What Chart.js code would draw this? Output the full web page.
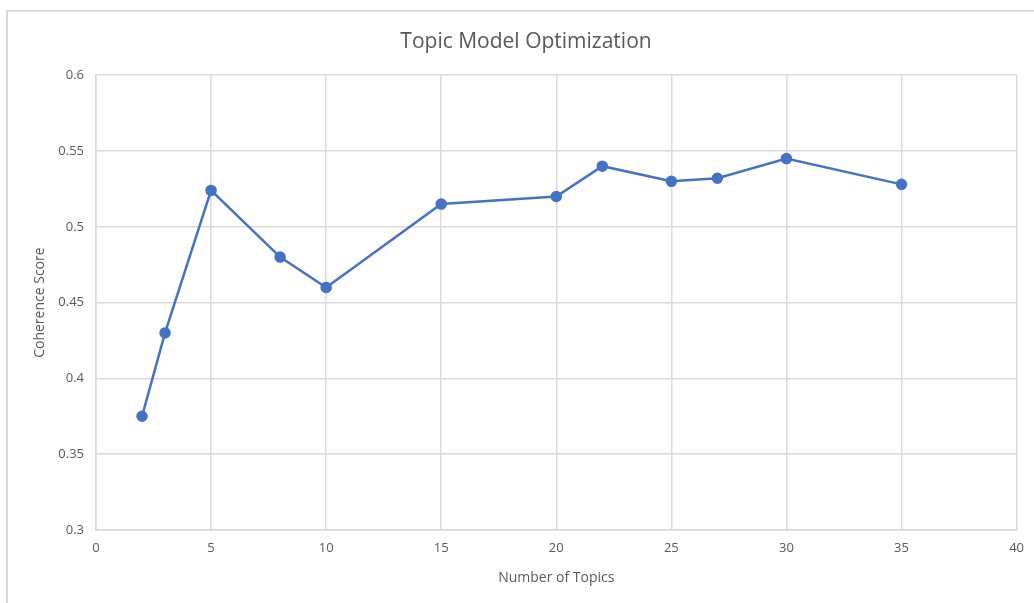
<!DOCTYPE html>
<html>
<head>
<meta charset="utf-8">
<script src="https://cdn.jsdelivr.net/npm/chart.js@4"></script>
<style>
  html, body { margin: 0; padding: 0; background: #fff; overflow: hidden; }
  #frame { position: absolute; left: 6px; top: 10px; width: 1100px; height: 700px; border: 2px solid #d9d9d9; box-sizing: border-box; }
  #wrap { position: absolute; left: 0; top: 0; width: 1034px; height: 603px; }
</style>
</head>
<body>
<div id="frame"></div>
<div id="wrap"><canvas id="chart" width="1034" height="603"></canvas></div>
<script>
const numTopics = [2, 3, 5, 8, 10, 15, 20, 22, 25, 27, 30, 35];
const coherence = [0.375, 0.43, 0.524, 0.48, 0.46, 0.515, 0.52, 0.54, 0.53, 0.532, 0.545, 0.528];
const yTickLabels = ['0.3', '0.35', '0.4', '0.45', '0.5', '0.55', '0.6'];

const textColor = '#595959';
const gridColor = '#d9d9d9';
const fontFamily = '"Open Sans", "Liberation Sans", sans-serif';

new Chart(document.getElementById('chart'), {
    type: 'scatter',
    data: {
        datasets: [{
            label: 'Coherence Score',
            data: numTopics.map((x, i) => ({ x: x, y: coherence[i] })),
            showLine: true,
            borderColor: '#4472c4',
            backgroundColor: '#4472c4',
            borderWidth: 2.5,
            pointRadius: 4.5,
            pointHoverRadius: 4.5,
            tension: 0
        }]
    },
    options: {
        responsive: false,
        animation: false,
        layout: { padding: { left: 34, right: 16, top: 0, bottom: 0 } },
        plugins: {
            legend: { display: false },
            tooltip: { enabled: false },
            title: {
                display: true,
                text: 'Topic Model Optimization',
                color: textColor,
                font: { family: fontFamily, size: 21, weight: 'normal' },
                padding: { top: 29, bottom: 21 }
            }
        },
        scales: {
            x: {
                type: 'linear',
                min: 0,
                max: 40,
                ticks: { stepSize: 5, color: textColor, padding: 10, font: { family: fontFamily, size: 13 } },
                grid: { color: gridColor, lineWidth: 1.5, drawTicks: false },
                border: { color: gridColor, width: 1.5 },
                title: {
                    display: true,
                    text: 'Number of Topics',
                    color: textColor,
                    font: { family: fontFamily, size: 14 },
                    padding: { top: 8, bottom: 17 }
                },
                afterFit: (scale) => { scale.height = 73; }
            },
            y: {
                min: 0.3,
                max: 0.6,
                ticks: {
                    stepSize: 0.05,
                    color: textColor,
                    padding: 12,
                    font: { family: fontFamily, size: 13 },
                    callback: (v, i) => yTickLabels[i]
                },
                grid: { color: gridColor, lineWidth: 1.5, drawTicks: false },
                border: { color: gridColor, width: 1.5 },
                title: {
                    display: true,
                    text: 'Coherence Score',
                    color: textColor,
                    font: { family: fontFamily, size: 14 },
                    padding: { top: -2, bottom: 0 }
                },
                afterFit: (scale) => { scale.width = 62; }
            }
        }
    }
});
</script>
</body>
</html>
